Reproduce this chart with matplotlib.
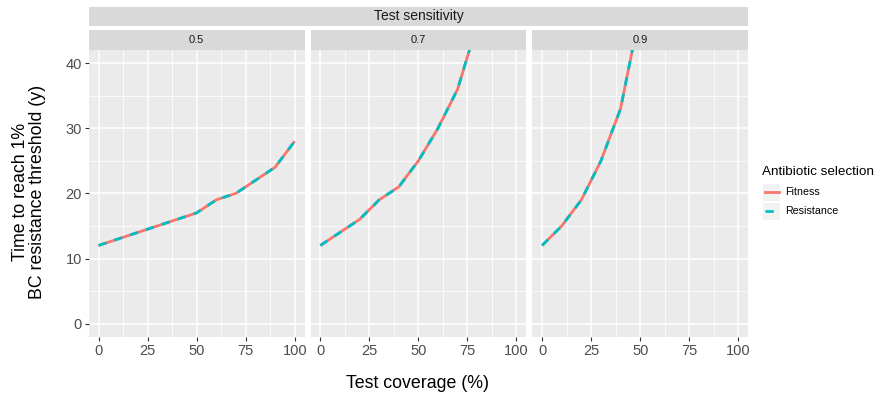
import numpy as np
import matplotlib.pyplot as plt
from matplotlib.lines import Line2D
from matplotlib.patches import Rectangle

plt.rcParams['font.family'] = ['Liberation Sans', 'DejaVu Sans']

# data
sensitivity = ['0.5', '0.7', '0.9']
coverage_05 = [0, 10, 20, 30, 40, 50, 60, 70, 80, 90, 100]
years_05 = [12, 13, 14, 15, 16, 17, 19, 20, 22, 24, 28]
coverage_07 = [0, 10, 20, 30, 40, 50, 60, 70, 80]
years_07 = [12, 14, 16, 19, 21, 25, 30, 36, 46]
coverage_09 = [0, 10, 20, 30, 40, 50]
years_09 = [12, 15, 19, 25, 33, 48]
selection = ['Fitness', 'Resistance']

series = [(coverage_05, years_05), (coverage_07, years_07), (coverage_09, years_09)]

fit_col = '#F8766D'
res_col = '#00BFC4'
bg = '#EBEBEB'
strip_col = '#D9D9D9'
tick_col = '#4D4D4D'

fig = plt.figure(figsize=(8.77, 3.99), dpi=100)
W, H = 877, 399


def fx(px):
    return px / W


def fy(py):
    return 1 - py / H


def strip(left, top_px, width, height, label, size):
    sax = fig.add_axes([fx(left), fy(top_px + height), width / W, height / H])
    sax.set_facecolor(strip_col)
    sax.set_xticks([])
    sax.set_yticks([])
    for s in sax.spines.values():
        s.set_visible(False)
    sax.text(0.5, 0.5, label, ha='center', va='center',
             fontsize=size, color='#1A1A1A', transform=sax.transAxes)


lefts = [88.7, 310.5, 532.3]
pw = 215.8
top, bottom = 50, 336.7

for i, (xs, ys) in enumerate(series):
    ax = fig.add_axes([fx(lefts[i]), fy(bottom), pw / W, (bottom - top) / H])
    ax.set_facecolor(bg)
    ax.set_xlim(-5, 105)
    ax.set_ylim(-2, 42)
    ax.set_xticks([0, 25, 50, 75, 100])
    ax.set_xticks([12.5, 37.5, 62.5, 87.5], minor=True)
    ax.set_yticks([0, 10, 20, 30, 40])
    ax.set_yticks([5, 15, 25, 35], minor=True)
    ax.grid(which='major', color='white', lw=1.1)
    ax.grid(which='minor', color='white', lw=0.55)
    ax.set_axisbelow(True)
    for s in ax.spines.values():
        s.set_visible(False)
    ax.tick_params(which='major', length=3, width=0.8, color='#333333',
                   labelcolor=tick_col, labelsize=10.5, pad=2)
    ax.tick_params(which='minor', length=0)
    if i > 0:
        ax.tick_params(axis='y', labelleft=False, length=0)
    ax.plot(xs, ys, color=fit_col, lw=2.0, solid_capstyle='butt')
    ax.plot(xs, ys, color=res_col, lw=2.0, dashes=(3, 3), dash_capstyle='butt')

    strip(lefts[i], 30, pw, 20, sensitivity[i], 8)

strip(lefts[0], 6.7, lefts[2] + pw - lefts[0], 19.3, 'Test sensitivity', 10)

fig.text(fx(418), fy(383), 'Test coverage (%)', ha='center', va='center', fontsize=12.8)
fig.text(fx(29), fy(192), 'Time to reach 1%\nBC resistance threshold (y)', ha='center',
         va='center', rotation=90, fontsize=12.8, linespacing=1.05)

# legend drawn by hand, ggplot style
fig.text(fx(762), fy(172), 'Antibiotic selection', ha='left', va='center', fontsize=9.7)
key_cols = [fit_col, res_col]
key_dash = [None, (3, 3)]
for k, name in enumerate(selection):
    yc = 192 + k * 19
    fig.patches.append(Rectangle((fx(763), fy(yc + 8.5)), 17 / W, 17 / H,
                                 transform=fig.transFigure, facecolor='#F2F2F2',
                                 edgecolor='none'))
    ln = Line2D([fx(765), fx(779)], [fy(yc), fy(yc)], transform=fig.transFigure,
                color=key_cols[k], lw=2.0)
    if key_dash[k]:
        ln.set_dashes(key_dash[k])
    fig.lines.append(ln)
    fig.text(fx(785), fy(yc), name, ha='left', va='center', fontsize=7.7)

fig.savefig('out.png', dpi=100)
